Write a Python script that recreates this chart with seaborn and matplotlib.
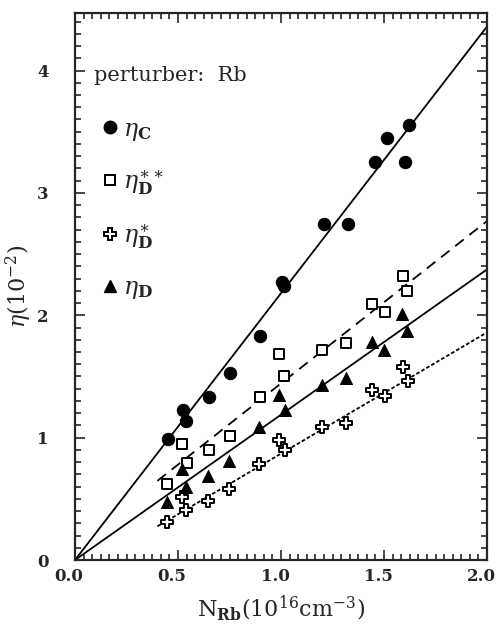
import numpy as np
import pandas as pd
import matplotlib
matplotlib.use("Agg")
import matplotlib.pyplot as plt
import matplotlib.transforms as mtransforms
import seaborn as sns
from matplotlib.ticker import AutoMinorLocator
from matplotlib.lines import Line2D

# ---- data ----
x_C = [0.45, 0.523, 0.541, 0.65, 0.75, 0.90, 1.003, 1.016, 1.208, 1.325, 1.455, 1.512, 1.60, 1.623]
y_C = [0.986, 1.225, 1.135, 1.333, 1.53, 1.83, 2.27, 2.24, 2.746, 2.746, 3.25, 3.45, 3.256, 3.554]

x_Dss = [0.448, 0.52, 0.542, 0.65, 0.75, 0.90, 0.99, 1.015, 1.20, 1.316, 1.44, 1.505, 1.59, 1.61]
y_Dss = [0.62, 0.945, 0.79, 0.90, 1.01, 1.336, 1.68, 1.507, 1.716, 1.777, 2.09, 2.03, 2.32, 2.20]

x_Ds = [0.445, 0.518, 0.539, 0.647, 0.749, 0.895, 0.99, 1.02, 1.198, 1.314, 1.443, 1.505, 1.594, 1.615]
y_Ds = [0.31, 0.515, 0.405, 0.48, 0.58, 0.785, 0.98, 0.895, 1.09, 1.12, 1.386, 1.34, 1.576, 1.46]

x_D = [0.445, 0.52, 0.54, 0.647, 0.748, 0.895, 0.99, 1.02, 1.198, 1.314, 1.443, 1.50, 1.589, 1.61]
y_D = [0.47, 0.74, 0.60, 0.69, 0.81, 1.09, 1.35, 1.226, 1.43, 1.49, 1.78, 1.72, 2.01, 1.87]

# fitted lines: endpoints
fit_C_x = [0.0, 2.0];   fit_C_y = [0.0, 4.36]
fit_Dss_x = [0.40, 2.0]; fit_Dss_y = [0.647, 2.77]
fit_Ds_x = [0.40, 2.0];  fit_Ds_y = [0.275, 1.86]
fit_D_x = [0.0, 2.0];   fit_D_y = [0.0, 2.375]

series_labels = [r'$\eta_{\mathbf{C}}$', r'$\eta_{\mathbf{D}}^{\ast\ast}$',
                 r'$\eta_{\mathbf{D}}^{\ast}$', r'$\eta_{\mathbf{D}}$']
x_ticks = [0.0, 0.5, 1.0, 1.5, 2.0]
y_ticks = [0, 1, 2, 3, 4]

sns.set_style("ticks")
plt.rcParams['font.family'] = ['DejaVu Serif']
plt.rcParams['mathtext.fontset'] = 'dejavuserif'

fig = plt.figure(figsize=(4.98, 6.35), dpi=100)
ax = fig.add_axes([0.1506, 0.1181, 0.8274, 0.8614])

# fit lines
sns.lineplot(x=fit_C_x, y=fit_C_y, ax=ax, color='black', lw=1.3)
sns.lineplot(x=fit_D_x, y=fit_D_y, ax=ax, color='black', lw=1.3)
ax.plot(fit_Dss_x, fit_Dss_y, color='black', lw=1.3, dashes=(6, 4))
ax.plot(fit_Ds_x, fit_Ds_y, color='black', lw=1.3, dashes=(2.0, 1.2))

# data points
sns.scatterplot(x=x_C, y=y_C, ax=ax, marker='o', s=80, color='black', edgecolor='black', zorder=5)
sns.scatterplot(x=x_Dss, y=y_Dss, ax=ax, marker='s', s=55, facecolor='white', edgecolor='black', linewidth=1.4, zorder=5)
sns.scatterplot(x=x_Ds, y=y_Ds, ax=ax, marker='P', s=75, facecolor='white', edgecolor='black', linewidth=1.4, zorder=5)
sns.scatterplot(x=x_D, y=y_D, ax=ax, marker='^', s=75, color='black', edgecolor='black', zorder=5)

ax.set_xlim(0, 2.0)
ax.set_ylim(0, 4.47)
ax.set_xticks(x_ticks)
ax.set_yticks(y_ticks)
ax.set_xticklabels([f'{v:.1f}' for v in x_ticks])
ax.set_yticklabels([str(v) for v in y_ticks])
ax.xaxis.set_minor_locator(AutoMinorLocator(12))
ax.yaxis.set_minor_locator(AutoMinorLocator(10))
ax.tick_params(which='both', direction='in', top=True, right=True, width=1.2)
ax.tick_params(axis='x', which='major', length=7, labelsize=12, pad=6)
ax.tick_params(axis='y', which='major', length=7, labelsize=12, pad=19)
ax.tick_params(which='minor', length=4)
shift = mtransforms.ScaledTranslation(-6 / 100, 0, fig.dpi_scale_trans)
for lab in ax.get_xticklabels():
    lab.set_fontweight('bold')
    lab.set_transform(lab.get_transform() + shift)
for lab in ax.get_yticklabels():
    lab.set_fontweight('bold')
for sp in ax.spines.values():
    sp.set_linewidth(1.6)
    sp.set_visible(True)

ax.set_xlabel(r'$\mathrm{N_{\mathbf{Rb}}(10^{16}cm^{-3})}$', fontsize=16, labelpad=6)
ax.set_ylabel(r'$\eta\mathrm{(10^{-2})}$', fontsize=16)
ax.yaxis.set_label_coords(-0.1, 0.5)

ax.text(0.045, 0.885, 'perturber:  Rb', transform=ax.transAxes, fontsize=15, va='center', ha='left')

handles = [
    Line2D([], [], ls='none', marker='o', ms=9, color='black'),
    Line2D([], [], ls='none', marker='s', ms=7.5, mfc='white', mec='black', mew=1.4),
    Line2D([], [], ls='none', marker='P', ms=9, mfc='white', mec='black', mew=1.4),
    Line2D([], [], ls='none', marker='^', ms=9, color='black'),
]
ax.legend(handles, series_labels, loc='upper left', bbox_to_anchor=(0.027, 0.826),
          frameon=False, fontsize=17, labelspacing=1.07, handletextpad=-0.05,
          handlelength=1.2, borderaxespad=0)

fig.savefig('out.png', dpi=100)
